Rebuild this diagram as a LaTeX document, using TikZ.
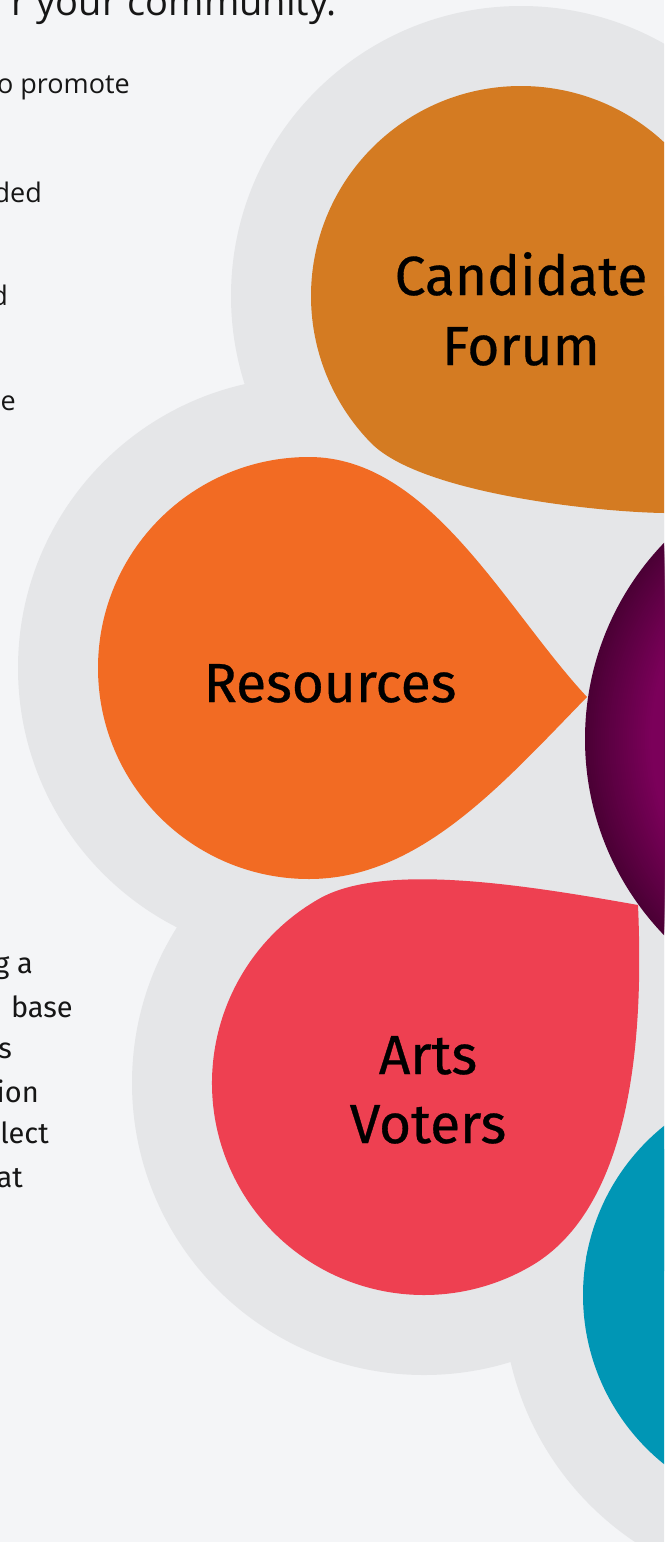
\documentclass[tikz,border=0pt]{standalone}
\usepackage{fontspec}
\setmainfont{Open Sans}
\newfontfamily\labelfont{Fira Sans}[FakeBold=0.6]
\newfontfamily\bodyfont{Fira Sans}
\definecolor{paper}{HTML}{F4F5F7}
\definecolor{halo}{HTML}{E5E6E8}
\definecolor{candfill}{HTML}{D47B22}
\definecolor{resfill}{HTML}{F26B23}
\definecolor{artsfill}{HTML}{EE4051}
\definecolor{tealfill}{HTML}{0096B5}
\definecolor{hubin}{HTML}{7B005A}
\definecolor{hubout}{HTML}{4B0035}
\definecolor{ink}{HTML}{161616}
\begin{document}
\begin{tikzpicture}[x=1pt,y=1pt,
  petaltext/.style={font=\labelfont\fontsize{55}{55}\selectfont, anchor=base, inner sep=0pt, text=black},
  sidetext/.style={font=\fontsize{27}{27}\selectfont, anchor=base east, inner sep=0pt, text=ink},
  sidetextb/.style={font=\bodyfont\fontsize{29}{29}\selectfont, anchor=base east, inner sep=0pt, text=ink}]
\useasboundingbox (0,0) rectangle (664,-1542);
\clip (0,0) rectangle (664,-1542);
\fill[paper] (0,0) rectangle (664,-1542);

% light grey halo behind the petals
\fill[halo] (521,-296) circle[radius=290] (309,-668) circle[radius=291]
            (424,-1083) circle[radius=292] (800,-1295) circle[radius=297];
\fill[halo] (521,-296) -- (309,-668) -- (424,-1083) -- (800,-1295) -- (800,-296) -- cycle;

% central hub: dark rim fading to a brighter core, built from concentric discs
\coordinate (hubc) at (868,-739);
\foreach \i in {0,...,33} {
  \pgfmathsetmacro\mix{100-100*\i/33}
  \fill[hubout!\mix!hubin] (hubc) circle[radius={283-2*\i}];
}

% Candidate Forum petal
\fill[candfill] (521,-296) ++(40:210) arc[start angle=40, end angle=224.2, radius=210]
  .. controls (419,-493) and (595,-512) .. (664,-513) -- (760,-518) -- (760,-100) -- cycle;

% Resources petal
\fill[resfill] (587,-697) .. controls (505,-609) and (430,-457) .. (309,-457)
  arc[start angle=90, end angle=270, radius=211]
  .. controls (420,-879) and (503,-783) .. (587,-697) -- cycle;

% Arts Voters petal
\path (424,-1083) ++(119.6:212) coordinate (artsA);
\fill[artsfill] (artsA) arc[start angle=119.6, end angle=300, radius=212]
  .. controls (643,-1202) and (642,-1000) .. (638,-905)
  .. controls (525,-885) and (384,-862) .. (artsA) -- cycle;

% teal petal
\fill[tealfill] (800,-1295) circle[radius=217];
\fill[tealfill] (800,-1295) ++(170:217) .. controls (595,-1208) and (672,-1148) .. (700,-1108)
  -- (800,-1108) -- (800,-1295) -- cycle;

% petal labels
\node[petaltext] (cand1) at (521,-295) {Candidate};
\node[petaltext] (cand2) at (521,-365) {Forum};
\node[petaltext] (res) at (330,-702) {Resources};
\node[petaltext] (arts1) at (428,-1074) {Arts};
\node[petaltext] (arts2) at (428,-1143) {Voters};

% body text on the left
\node[sidetext, font=\fontsize{38}{38}\selectfont] (t0) at (337,-15) {r your community.};
\node[sidetext] (t1) at (130,-93) {o promote};
\node[sidetext] (t2) at (42,-202) {ded};
\node[sidetext] (t3) at (8,-305) {d};
\node[sidetext] (t4) at (16,-410) {e};
\node[sidetextb] (b1) at (33,-973) {g a};
\node[sidetextb] (b2) at (73,-1017) {base};
\node[sidetextb] (b3) at (12,-1058) {s};
\node[sidetextb] (b4) at (39,-1102) {ion};
\node[sidetextb] (b5) at (49,-1143) {lect};
\node[sidetextb] (b6) at (23,-1187) {at};
\end{tikzpicture}
\end{document}
